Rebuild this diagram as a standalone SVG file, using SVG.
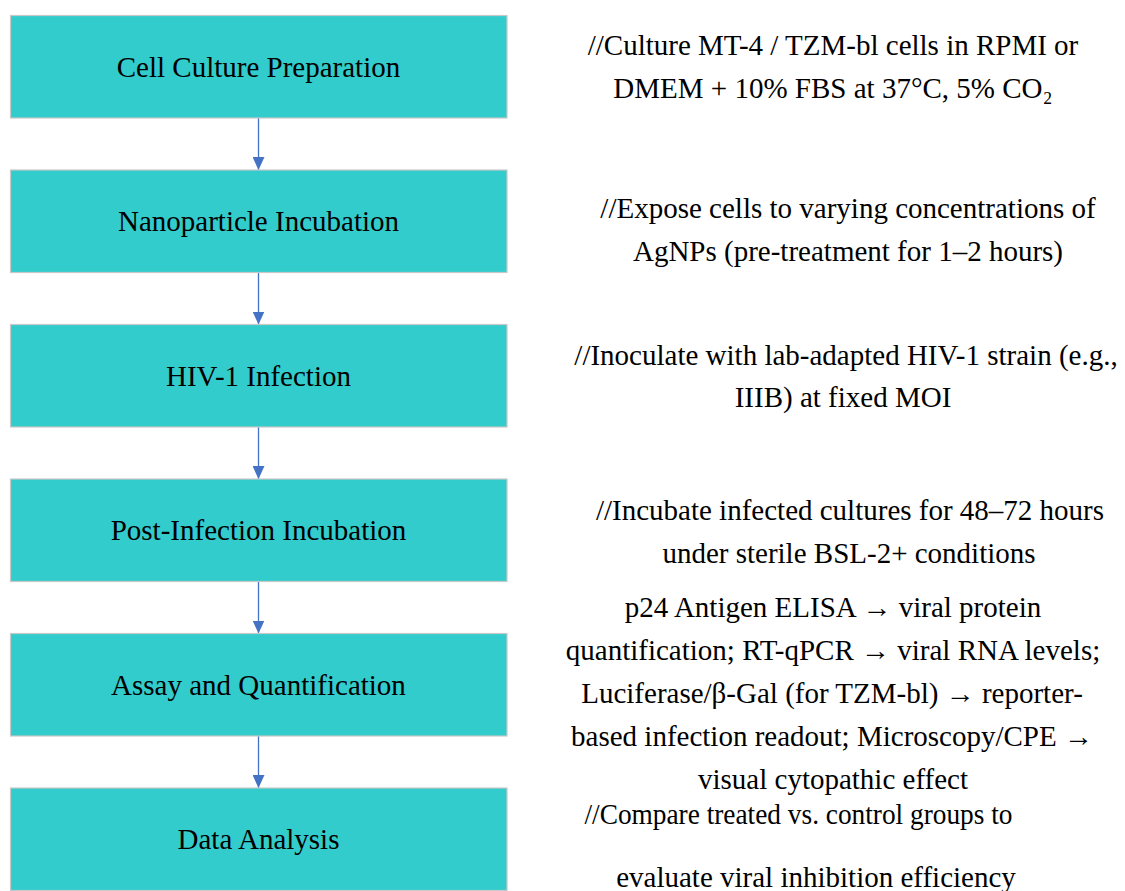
<svg xmlns="http://www.w3.org/2000/svg" width="1125" height="891" viewBox="0 0 1125 891">
<style>
.box{fill:#33CCCC;stroke:#C8C8C8;stroke-width:1.2}
.t{font-family:'Liberation Serif','Times New Roman','DejaVu Serif',serif;font-size:29px;fill:#000;text-anchor:middle}
.c{stroke:#4472C4;stroke-width:1.3;fill:none}
</style>
<defs>
<marker id="ah" markerWidth="13" markerHeight="12" refX="13" refY="6" orient="auto" markerUnits="userSpaceOnUse" viewBox="0 0 13 12">
<path d="M0,0 L13,6 L0,12 Z" fill="#4472C4"/>
</marker>
</defs>
<rect width="1125" height="891" fill="#fff"/>
<g id="connectors">
<line class="c" x1="258.5" y1="118" x2="258.5" y2="170" marker-end="url(#ah)"/>
<line class="c" x1="258.5" y1="272.5" x2="258.5" y2="324.5" marker-end="url(#ah)"/>
<line class="c" x1="258.5" y1="427" x2="258.5" y2="479" marker-end="url(#ah)"/>
<line class="c" x1="258.5" y1="581.5" x2="258.5" y2="633.5" marker-end="url(#ah)"/>
<line class="c" x1="258.5" y1="736" x2="258.5" y2="788" marker-end="url(#ah)"/>
</g>
<g id="n1"><rect class="box" x="10.5" y="15.5" width="496.5" height="102.5"/><text class="t" x="258.5" y="77">Cell Culture Preparation</text></g>
<g id="n2"><rect class="box" x="10.5" y="170" width="496.5" height="102.5"/><text class="t" x="258.5" y="231">Nanoparticle Incubation</text></g>
<g id="n3"><rect class="box" x="10.5" y="324.5" width="496.5" height="102.5"/><text class="t" x="258.5" y="386">HIV-1 Infection</text></g>
<g id="n4"><rect class="box" x="10.5" y="479" width="496.5" height="102.5"/><text class="t" x="258.5" y="540">Post-Infection Incubation</text></g>
<g id="n5"><rect class="box" x="10.5" y="633.5" width="496.5" height="102.5"/><text class="t" x="258.5" y="695">Assay and Quantification</text></g>
<g id="n6"><rect class="box" x="10.5" y="788" width="496.5" height="102.5"/><text class="t" x="258.5" y="849">Data Analysis</text></g>
<g id="notes">
<text class="t" x="833" y="55">//Culture MT-4 / TZM-bl cells in RPMI or</text>
<text class="t" x="833" y="98">DMEM + 10% FBS at 37°C, 5% CO₂</text>
<text class="t" x="848" y="218">//Expose cells to varying concentrations of</text>
<text class="t" x="848" y="261">AgNPs (pre-treatment for 1–2 hours)</text>
<text class="t" x="846" y="365">//Inoculate with lab-adapted HIV-1 strain (e.g.,</text>
<text class="t" x="843" y="407">IIIB) at fixed MOI</text>
<text class="t" x="850" y="520">//Incubate infected cultures for 48–72 hours</text>
<text class="t" x="849" y="563">under sterile BSL-2+ conditions</text>
<text class="t" x="833" y="617">p24 Antigen ELISA → viral protein</text>
<text class="t" x="833" y="660">quantification; RT-qPCR → viral RNA levels;</text>
<text class="t" x="832" y="703">Luciferase/β-Gal (for TZM-bl) → reporter-</text>
<text class="t" x="832" y="746">based infection readout; Microscopy/CPE →</text>
<text class="t" x="833" y="789">visual cytopathic effect</text>
<text class="t" x="798.5" y="824" textLength="428" lengthAdjust="spacingAndGlyphs">//Compare treated vs. control groups to</text>
<text class="t" x="816" y="887">evaluate viral inhibition efficiency</text>
</g>
</svg>
